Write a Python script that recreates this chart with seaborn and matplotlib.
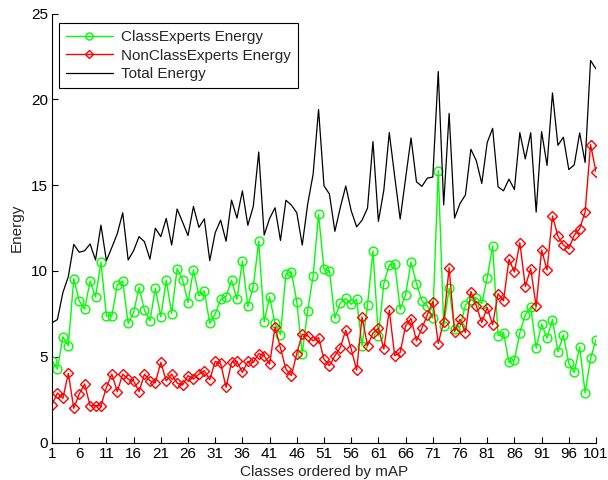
import matplotlib
matplotlib.use("Agg")
import matplotlib.pyplot as plt
import seaborn as sns
import pandas as pd

classes = list(range(1, 102))

class_experts = [
    4.77, 4.28, 6.16, 5.64, 9.55, 8.26, 7.77, 9.42, 8.49, 10.52,
    7.38, 7.38, 9.20, 9.40, 6.94, 7.58, 9.03, 7.71, 7.09, 8.99,
    7.33, 9.46, 7.52, 10.14, 9.50, 8.16, 10.06, 8.55, 8.84, 6.94,
    7.50, 8.35, 8.51, 9.46, 8.35, 10.58, 7.93, 9.09, 11.74, 7.03,
    8.49, 6.94, 6.28, 9.84, 9.94, 8.20, 5.19, 7.67, 9.71, 13.29,
    10.10, 10.00, 7.25, 8.16, 8.40, 8.06, 8.35, 5.64, 8.02, 11.16,
    6.22, 9.26, 10.35, 10.43, 7.77, 8.60, 10.52, 9.26, 8.26, 7.97,
    7.25, 15.85, 6.80, 8.99, 6.61, 6.74, 8.02, 8.29, 8.45, 8.10,
    9.61, 11.45, 6.22, 6.41, 4.67, 4.81, 6.41, 7.44, 7.91, 5.50,
    6.90, 6.09, 7.17, 5.29, 6.28, 4.61, 4.09, 5.58, 2.89, 4.90,
    5.99,
]

non_class_experts = [
    2.21, 2.89, 2.58, 4.03, 2.00, 2.83, 3.41, 2.15, 2.15, 2.15,
    3.22, 3.99, 2.97, 3.99, 3.70, 3.60, 2.97, 3.99, 3.60, 3.50,
    4.67, 3.60, 3.99, 3.47, 3.35, 3.90, 3.70, 3.99, 4.19, 3.66,
    4.73, 4.61, 3.22, 4.67, 4.73, 4.09, 4.73, 4.67, 5.19, 5.06,
    4.57, 6.74, 5.50, 4.28, 3.90, 5.19, 6.32, 6.22, 5.93, 6.12,
    4.86, 4.48, 5.06, 5.54, 6.55, 5.45, 4.22, 7.32, 5.64, 6.38,
    6.67, 5.45, 7.71, 5.06, 5.25, 6.80, 7.23, 5.93, 6.67, 7.44,
    8.22, 5.77, 7.05, 10.19, 6.47, 7.19, 6.41, 8.80, 7.97, 7.00,
    7.87, 6.86, 8.68, 8.26, 10.68, 9.94, 11.65, 9.09, 10.14, 7.93,
    11.22, 10.06, 13.20, 12.03, 11.51, 11.30, 12.09, 12.46, 13.43, 17.36,
    15.78,
]

total_energy = [
    6.98, 7.17, 8.74, 9.67, 11.55, 11.09, 11.18, 11.57, 10.64, 12.67,
    10.60, 11.37, 12.17, 13.39, 10.64, 11.18, 12.00, 11.70, 10.69, 12.49,
    12.00, 13.06, 11.51, 13.61, 12.85, 12.06, 13.76, 12.54, 13.03, 10.60,
    12.23, 12.96, 11.73, 14.13, 13.08, 14.67, 12.66, 13.76, 16.93, 12.09,
    13.06, 13.68, 11.78, 14.12, 13.84, 13.39, 11.51, 13.89, 15.64, 19.41,
    14.96, 14.48, 12.31, 13.70, 14.95, 13.51, 12.57, 12.96, 13.66, 17.54,
    12.89, 14.71, 18.06, 15.49, 13.02, 15.40, 17.75, 15.19, 14.93, 15.41,
    15.47, 21.62, 13.85, 19.18, 13.08, 13.93, 14.43, 17.09, 16.42, 15.10,
    17.48, 18.31, 14.90, 14.67, 15.35, 14.75, 18.06, 16.53, 18.05, 13.43,
    18.12, 16.15, 20.37, 17.32, 17.79, 15.91, 16.18, 18.04, 16.32, 22.26,
    21.77,
]

xtick_values = list(range(1, 102, 5))
ytick_values = [0, 5, 10, 15, 20, 25]

df = pd.DataFrame({
    "cls": classes,
    "ce": class_experts,
    "nce": non_class_experts,
    "tot": total_energy,
})

sns.set_style("white")
plt.rcParams["font.family"] = ["Liberation Sans", "DejaVu Sans"]
plt.rcParams["font.size"] = 11

fig = plt.figure(figsize=(6.08, 4.8), dpi=100)
ax = fig.add_axes([52 / 608, 1 - 442.6 / 480, 544 / 608, 429.1 / 480])

sns.lineplot(data=df, x="cls", y="ce", ax=ax, color="#00ff00", linewidth=1.0,
             marker="o", markersize=6.3, markerfacecolor="none",
             markeredgecolor="#00ff00", markeredgewidth=1.0,
             label="ClassExperts Energy")
sns.lineplot(data=df, x="cls", y="nce", ax=ax, color="#ff0000", linewidth=1.0,
             marker="D", markersize=5.2, markerfacecolor="none",
             markeredgecolor="#ff0000", markeredgewidth=1.0,
             label="NonClassExperts Energy")
sns.lineplot(data=df, x="cls", y="tot", ax=ax, color="black", linewidth=0.9,
             label="Total Energy")

ax.set_xlim(1, 101)
ax.set_ylim(0, 25)
ax.set_xticks(xtick_values)
ax.set_yticks(ytick_values)
ax.set_xlabel("Classes ordered by mAP", fontsize=11, labelpad=3)
ax.set_ylabel("Energy", fontsize=11, labelpad=5)
ax.tick_params(direction="in", length=4.5, width=0.8, labelsize=11,
               top=False, right=False, bottom=True, left=True, pad=3,
               colors="black")
for name, s in ax.spines.items():
    if name in ("top", "right"):
        s.set_visible(False)
    else:
        s.set_visible(True)
        s.set_color("black")
        s.set_linewidth(0.8)

leg = ax.legend(loc="upper left", bbox_to_anchor=(6.8 / 544, 1 - 9.7 / 429),
                fontsize=11, frameon=True, fancybox=False,
                edgecolor="black", framealpha=1, handlelength=3.1,
                borderaxespad=0.0, borderpad=0.45, labelspacing=0.3,
                handletextpad=0.55, markerscale=0.8)
leg.get_frame().set_linewidth(0.8)

fig.savefig("out.png", dpi=100)
